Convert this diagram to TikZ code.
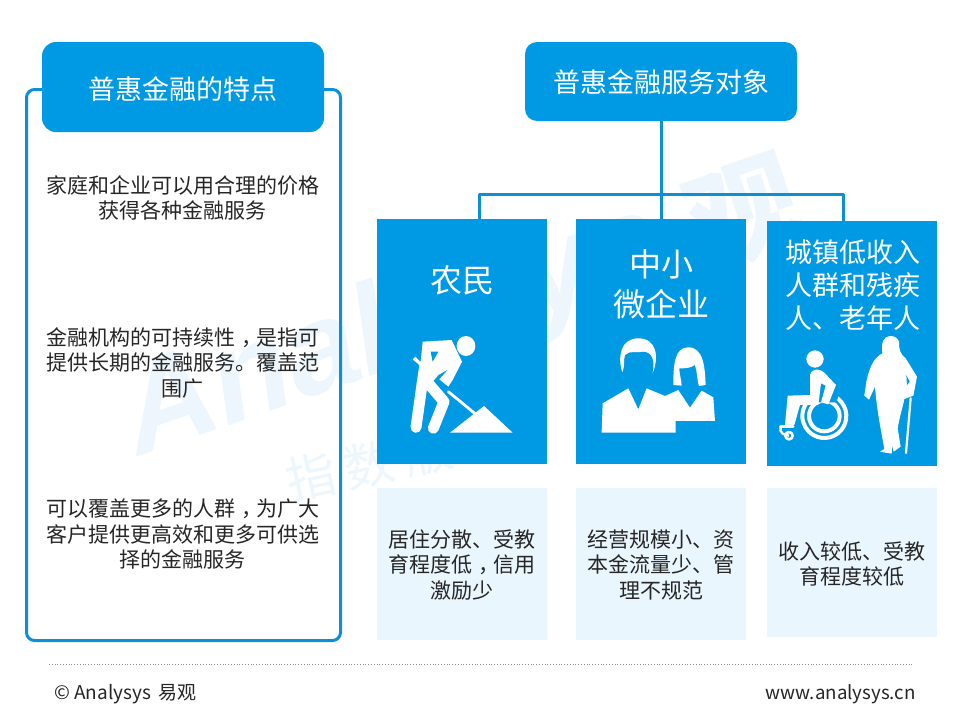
\documentclass[tikz,border=0pt]{standalone}
\usepackage{fontspec}
\setmainfont{Noto Sans CJK SC}
\newfontfamily\wmfont{Liberation Sans}
\definecolor{mainblue}{HTML}{0099E3}
\definecolor{linkblue}{HTML}{0C8FD6}
\definecolor{paleblue}{HTML}{EAF6FD}
\definecolor{wmark}{HTML}{ECF6FC}
\definecolor{bodyink}{HTML}{262626}
\newcommand{\fsz}[2]{\fontsize{#1}{#2}\selectfont}
\newcommand{\midcomma}{\hspace{0.3em}，\hspace{-0.3em}}
\tikzset{
  solidbox/.style={fill=mainblue,draw=none,inner sep=0pt,text=white,align=center},
  palebox/.style={fill=paleblue,draw=none,inner sep=0pt,text=bodyink,align=center,font=\fsz{21}{25.5}},
  bodytext/.style={inner sep=0pt,text=bodyink,align=center,font=\fsz{21}{25.5}},
  link/.style={draw=linkblue,line width=3pt},
  icon/.style={fill=white,draw=none},
  iconline/.style={draw=white,line cap=round,line join=round}
}
\begin{document}
\begin{tikzpicture}[x=1pt,y=-1pt]
\useasboundingbox (0,0) rectangle (960,720);
\fill[white] (0,0) rectangle (960,720);
% watermark
\node[text=wmark,font=\wmfont\bfseries\itshape\fsz{128}{128},rotate=19,anchor=west,inner sep=0pt] (wma) at (128,425) {Analysys};
\node[text=wmark,font=\bfseries\fsz{112}{112},rotate=19,anchor=west,inner sep=0pt] (wmb) at (690,232) {观};
\node[text=wmark,font=\fsz{50}{50},rotate=12,anchor=west,inner sep=0pt] (wmc) at (286,482) {指\hspace{10pt}数\hspace{10pt}版};
% left frame
\node[draw=linkblue,line width=3pt,rounded corners=8pt,minimum width=314pt,minimum height=551pt,inner sep=0pt] (frame) at (183.5,365) {};
\node[solidbox,rounded corners=14pt,minimum width=282pt,minimum height=90pt] (ltitle) at (183,87) {};
\node[text=white,inner sep=0pt,font=\fsz{27}{32}] (ltext) at (182.5,89) {普惠金融的特点};
\node[bodytext] (l1) at (182.5,198) {家庭和企业可以用合理的价格\\获得各种金融服务};
\node[bodytext] (l2) at (182.5,363) {金融机构的可持续性\midcomma 是指可\\提供长期的金融服务。覆盖范\\围广};
\node[bodytext] (l3) at (182.5,534) {可以覆盖更多的人群\midcomma 为广大\\客户提供更高效和更多可供选\\择的金融服务};
% top box
\node[solidbox,rounded corners=12pt,minimum width=272pt,minimum height=79pt] (rtitle) at (661,81.5) {};
\node[text=white,inner sep=0pt,font=\fsz{27}{32}] (rtext) at (661,82.5) {普惠金融服务对象};
% category boxes
\node[solidbox,minimum width=170pt,minimum height=245pt] (b1) at (462,341.5) {};
\node[solidbox,minimum width=170pt,minimum height=245pt] (b2) at (661,341.5) {};
\node[solidbox,minimum width=170pt,minimum height=245pt] (b3) at (852,343.5) {};
\node[text=white,font=\fsz{32}{40},align=center,inner sep=0pt] (t1) at (462,280) {农民};
\node[text=white,font=\fsz{32}{40},align=center,inner sep=0pt] (t2) at (661,284) {中小\\微企业};
\node[text=white,font=\fsz{27}{33},align=center,inner sep=0pt] (t3) at (852.5,285) {城镇低收入\\人群和残疾\\人、老年人};
% connectors
\coordinate (j1) at (479,194);
\coordinate (j3) at (843,194);
\coordinate (e1) at (479,219);
\coordinate (e3) at (843,221);
\draw[link] (rtitle.south) -- (b2.north);
\draw[link,line join=round] (e1) -- (j1) -- (j3) -- (e3);
% pale boxes
\node[palebox,minimum width=170pt,minimum height=152pt] (p1) at (462,564) {};
\node[palebox,minimum width=170pt,minimum height=152pt] (p2) at (661,564) {};
\node[palebox,minimum width=170pt,minimum height=149pt] (p3) at (852,562.5) {};
\node[bodytext] (pt1) at (462,565) {居住分散、受教\\育程度低\midcomma 信用\\激励少};
\node[bodytext] (pt2) at (661,565) {经营规模小、资\\本金流量少、管\\理不规范};
\node[bodytext] (pt3) at (852,564) {收入较低、受教\\育程度较低};
% digger icon
\begin{scope}[shift={(380,320)},x=0.3333pt,y=-0.3333pt]
  \fill[icon] (258,78) ellipse (28 and 30);
  \fill[icon] (128,65) -- (215,60) -- (246,125) -- (218,180) -- (205,200) -- (178,178) -- (205,148) -- (175,165) -- (150,195) -- (110,190) -- (118,135) -- (98,118) -- (106,110) -- (122,126) -- cycle;
  \fill[mainblue] (152,95) -- (175,95) -- (158,125) -- cycle;
  \draw[iconline,line width=11pt] (128,180) -- (108,322);
  \draw[iconline,line width=11pt] (145,190) -- (192,245) -- (160,325);
  \draw[iconline,line width=2.8pt] (205,215) -- (290,285);
  \fill[icon] (210,338) -- (312,258) -- (398,338) -- cycle;
\end{scope}
% people icon
\begin{scope}[shift={(380,320)},x=0.3333pt,y=-0.3333pt]
  \fill[icon] (727,157) .. controls (712,110) and (722,55) .. (775,55) .. controls (830,55) and (838,110) .. (818,160) .. controls (826,120) and (815,95) .. (790,95) .. controls (770,100) and (750,90) .. (735,105) .. controls (730,120) and (735,140) .. (727,157) -- cycle;
  \fill[icon] (665,338) -- (668,250) -- (745,205) -- (775,268) -- (800,205) -- (855,228) -- (895,210) -- (930,263) -- (965,212) -- (1000,232) -- (1005,303) -- (887,303) -- (887,338) -- cycle;
  \fill[icon] (880,195) .. controls (880,130) and (885,82) .. (925,82) .. controls (970,82) and (975,140) .. (977,195) -- (957,198) .. controls (950,175) and (952,155) .. (945,135) .. controls (930,145) and (915,145) .. (898,145) .. controls (898,165) and (905,180) .. (905,197) -- cycle;
\end{scope}
% wheelchair and elderly icon
\begin{scope}[shift={(765,325)},x=0.3333pt,y=-0.3333pt]
  \fill[icon] (150,102) circle (26);
  \coordinate (wheel) at (178,273);
  \draw[iconline,line width=4pt,line cap=butt] ([shift={(-60:66)}]wheel) arc[start angle=-60,end angle=215,radius=66];
  \draw[iconline,line width=4pt,line cap=butt] (wheel) circle (46);
  \fill[mainblue] (150,190) -- (225,190) -- (215,232) -- (150,232) -- cycle;
  \fill[icon] (135,150) .. controls (135,135) and (160,125) .. (180,145) -- (213,180) -- (190,238) -- (168,232) -- (182,182) -- (168,175) -- (160,240) -- (105,240) -- (88,300) -- (60,300) -- (68,212) -- (135,210) -- cycle;
  \draw[iconline,line width=2.4pt,line cap=butt] (47,303) -- (47,318) .. controls (48,325) and (55,328) .. (72,332);
  \draw[iconline,line width=2.4pt] (47,305) -- (85,305);
  \draw[iconline,line width=2.6pt] (72,332) circle (11);
  \fill[icon] (375,33) .. controls (355,33) and (348,55) .. (352,85) .. controls (325,100) and (315,125) .. (305,165) -- (298,212) -- (312,224) -- (330,185) .. controls (335,250) and (345,300) .. (358,372) -- (345,380) -- (380,386) -- (382,362) -- (386,380) -- (407,365) -- (398,310) .. controls (405,270) and (415,240) .. (418,222) -- (445,212) -- (456,155) -- (422,100) .. controls (405,85) and (402,75) .. (402,50) .. controls (398,38) and (388,33) .. (375,33) -- cycle;
  \fill[mainblue] (424,150) -- (434,170) -- (426,180) -- cycle;
  \draw[iconline,line width=2.2pt] (437,220) -- (423,384);
\end{scope}
% footer
\coordinate (r0) at (49,664);
\coordinate (r1) at (912,664);
\draw[draw=black!45,line width=0.8pt,dotted] (r0) -- (r1);
\node[anchor=west,inner sep=0pt,text=bodyink,font=\fsz{19}{23}] (fl) at (54,694) {© Analysys\hspace{3pt} 易观};
\node[anchor=east,inner sep=0pt,text=bodyink,font=\fsz{18.7}{23}] (fr) at (916,694) {www.analysys.cn};
\end{tikzpicture}
\end{document}
